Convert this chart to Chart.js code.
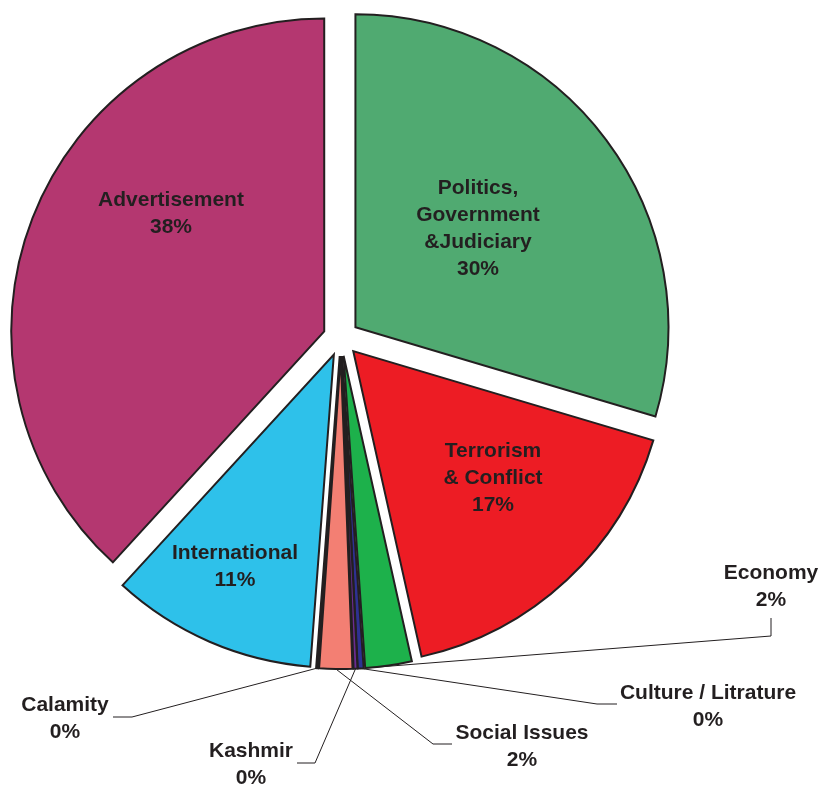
<!DOCTYPE html>
<html>
<head>
<meta charset="utf-8">
<script src="https://cdn.jsdelivr.net/npm/chart.js@4"></script>
<style>
  body { margin: 0; background: #fff; }
  canvas { display: block; }
</style>
</head>
<body>
<canvas id="chart" width="825" height="787"></canvas>
<script>
// slices, clockwise from 12 o'clock
const categories = [
  ['Politics,', 'Government', '&Judiciary'],
  ['Terrorism', '& Conflict'],
  'Economy',
  'Culture / Litrature',
  'Kashmir',
  'Social Issues',
  'Calamity',
  'International',
  'Advertisement'
]
const values = [29.6, 16.9, 2.4, 0.3, 0.2, 1.7, 0.1, 10.6, 38.2]
const colors = ['#50aa71', '#ed1c24', '#1db14b', '#2e3192', '#6b2c91', '#f37f73', '#f7941d', '#2ec1ea', '#b43770']

// where the labels sit (text centre of first line), leader end points for the outside ones
const labelLayout = [
  { x: 478, y: 188 },
  { x: 493, y: 451 },
  { x: 771, y: 573, leader: [[771, 636], [771, 618]], f: 1 },
  { x: 708, y: 693, leader: [[597, 704], [617, 704]], f: 0.5 },
  { x: 251, y: 751, leader: [[315, 763], [297, 763]], f: 0.5 },
  { x: 522, y: 733, leader: [[433, 744], [452, 744]], f: 0.5 },
  { x: 65, y: 705, leader: [[132, 717], [113, 717]], f: 0.5 },
  { x: 235, y: 553 },
  { x: 171, y: 200 }
]

const EXPLODE = 18
const INK = '#231f20'

// move every slice out along its bisector (excel style explode)
const explodePlugin = {
  id: 'explode',
  afterDatasetsUpdate(chart) {
    chart.getDatasetMeta(0).data.forEach(arc => {
      const mid = (arc.startAngle + arc.endAngle) / 2
      arc.x += Math.cos(mid) * EXPLODE
      arc.y += Math.sin(mid) * EXPLODE
    })
  }
}

const labelPlugin = {
  id: 'sliceLabels',
  afterDatasetsDraw(chart) {
    const ctx = chart.ctx
    const arcs = chart.getDatasetMeta(0).data
    const total = values.reduce((a, b) => a + b, 0)
    ctx.save()
    ctx.font = 'bold 21px "Liberation Sans", Arial, sans-serif'
    ctx.fillStyle = INK
    ctx.strokeStyle = INK
    ctx.lineWidth = 1
    ctx.textAlign = 'center'
    ctx.textBaseline = 'middle'
    arcs.forEach((arc, i) => {
      const lay = labelLayout[i]
      if (lay.leader) {
        const a = arc.startAngle + (arc.endAngle - arc.startAngle) * lay.f
        const r = arc.outerRadius
        ctx.beginPath()
        ctx.moveTo(arc.x + Math.cos(a) * r, arc.y + Math.sin(a) * r)
        lay.leader.forEach(p => ctx.lineTo(p[0], p[1]))
        ctx.stroke()
      }
      const name = Array.isArray(categories[i]) ? categories[i] : [categories[i]]
      const lines = name.concat(Math.round(values[i] / total * 100) + '%')
      lines.forEach((t, k) => ctx.fillText(t, lay.x, lay.y + k * 27))
    })
    ctx.restore()
  }
}

new Chart(document.getElementById('chart'), {
  type: 'pie',
  data: {
    labels: categories,
    datasets: [{
      data: values,
      backgroundColor: colors,
      borderColor: INK,
      borderWidth: 2,
      borderJoinStyle: 'miter'
    }]
  },
  options: {
    responsive: false,
    animation: false,
    radius: 313,
    layout: { padding: { left: 0, right: 143, top: 15, bottom: 126 } },
    plugins: {
      legend: { display: false },
      tooltip: { enabled: false }
    }
  },
  plugins: [explodePlugin, labelPlugin]
})
</script>
</body>
</html>
